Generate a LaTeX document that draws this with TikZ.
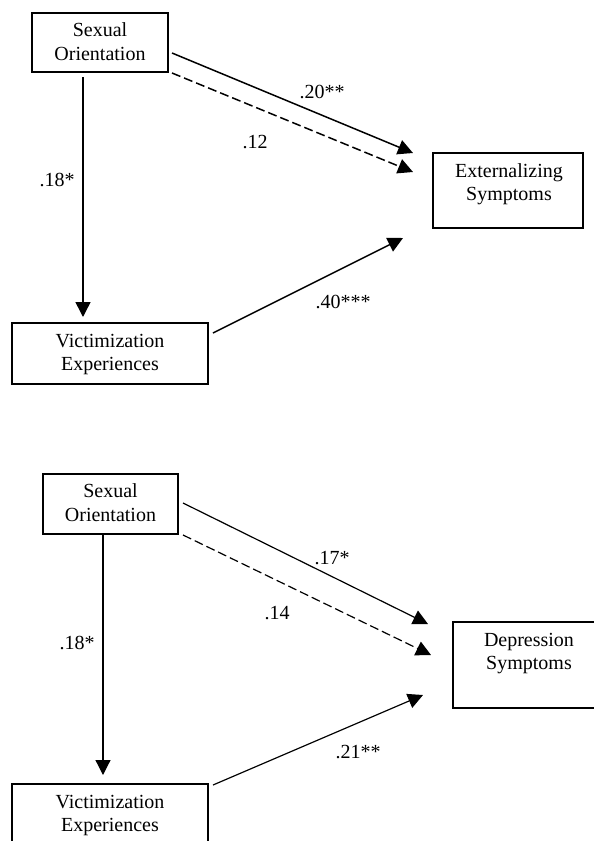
\documentclass[tikz,border=0pt]{standalone}
\usepackage{fontspec}
\setmainfont{Liberation Serif}
\usetikzlibrary{arrows.meta}
\begin{document}
\begin{tikzpicture}[x=1pt,y=-1pt,
  box/.style={draw, line width=1.3pt, inner sep=0pt, fill=none},
  txt/.style={align=center, inner sep=0pt, font=\fontsize{20}{23.5}\selectfont},
  lbl/.style={inner sep=0pt, font=\fontsize{20}{23.5}\selectfont},
  conn/.style={line width=1.5pt, -{Triangle[length=15pt,width=15pt]}},
  connthin/.style={line width=1.2pt, -{Triangle[length=15pt,width=15pt]}},
  dashconn/.style={conn, dash pattern=on 9pt off 4pt},
  dashconnthin/.style={connthin, dash pattern=on 9pt off 4pt}]
\useasboundingbox (0,0) rectangle (594,841);

% ---------- top panel ----------
\node[box, minimum width=136pt, minimum height=59pt] (so1) at (100,42.5) {};
\node[txt] (so1t) at (100,41.5) {Sexual\\Orientation};
\node[box, minimum width=196pt, minimum height=61pt] (vic1) at (110,353.5) {};
\node[txt] (vic1t) at (110,354.5) {Victimization\\Experiences};
\node[box, minimum width=150pt, minimum height=75pt] (ext) at (508,190.5) {};
\node[txt] (extt) at (509,184) {Externalizing\\Symptoms};

\coordinate (a1s) at (172,53);  \coordinate (a1e) at (413,153);
\coordinate (a2s) at (172,73);  \coordinate (a2e) at (413,172);
\coordinate (a3s) at (83,77);   \coordinate (a3e) at (83,317);
\coordinate (a4s) at (213,333); \coordinate (a4e) at (403,238);

\draw[conn] (a1s) -- (a1e);
\draw[dashconn] (a2s) -- (a2e);
\draw[conn] (a3s) -- (a3e);
\draw[conn] (a4s) -- (a4e);

\node[lbl] (l1) at (322,92) {.20**};
\node[lbl] (l2) at (255,142) {.12};
\node[lbl] (l3) at (57,180) {.18*};
\node[lbl] (l4) at (343,302) {.40***};

% ---------- bottom panel ----------
\node[box, minimum width=135pt, minimum height=60pt] (so2) at (110.5,504) {};
\node[txt] (so2t) at (110.5,502.8) {Sexual\\Orientation};
\node[box, minimum width=196pt, minimum height=61pt] (vic2) at (110,814.5) {};
\node[txt] (vic2t) at (110,815.5) {Victimization\\Experiences};
\node[box, minimum width=150pt, minimum height=86pt] (dep) at (528,665) {};
\node[txt] (dept) at (529,653.5) {Depression\\Symptoms};

\coordinate (b1s) at (183,503); \coordinate (b1e) at (428,624);
\coordinate (b2s) at (183,535); \coordinate (b2e) at (431,655);
\coordinate (b3s) at (103,534); \coordinate (b3e) at (103,775);
\coordinate (b4s) at (213,785); \coordinate (b4e) at (423,695);

\draw[connthin] (b1s) -- (b1e);
\draw[dashconnthin] (b2s) -- (b2e);
\draw[connthin] (b3s) -- (b3e);
\draw[connthin] (b4s) -- (b4e);

\node[lbl] (m1) at (332,558) {.17*};
\node[lbl] (m2) at (277,613) {.14};
\node[lbl] (m3) at (77,643) {.18*};
\node[lbl] (m4) at (358,752) {.21**};
\end{tikzpicture}
\end{document}
